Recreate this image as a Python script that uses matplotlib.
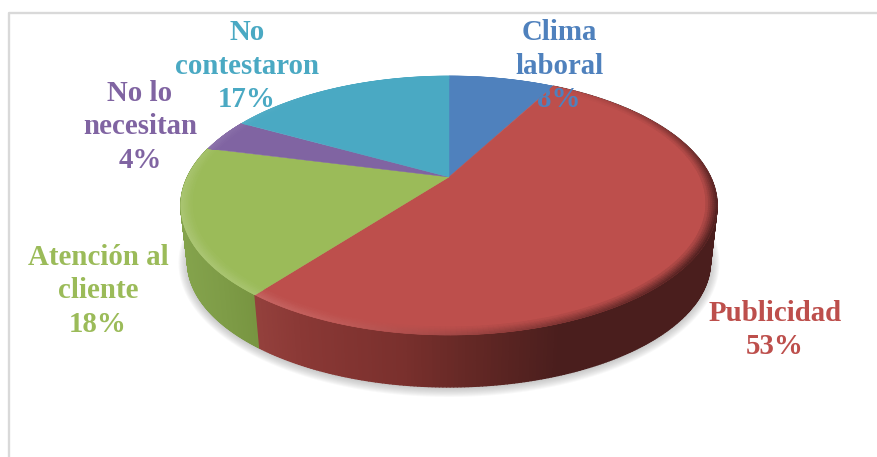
import numpy as np
import matplotlib
matplotlib.use("Agg")
import matplotlib.pyplot as plt
from matplotlib.collections import PolyCollection
from matplotlib.colors import to_rgb
from matplotlib.patches import Polygon

# Data
categories = ["Clima\nlaboral", "Publicidad", "Atención al\ncliente", "No lo\nnecesitan", "No\ncontestaron"]
percent_labels = ["8%", "53%", "18%", "4%", "17%"]
# slice sizes, they round to the labels above
shares = [7.9, 52.6, 18.4, 4.1, 17.0]
colors = ["#4f81bd", "#bd4f4c", "#9bbb59", "#8064a2", "#4aa9c3"]
label_pos = [(559, 66), (775, 330), (98, 291), (140, 127), (247, 66)]

# Pie geometry in pixels, top face is a circle seen in perspective
apex_x, apex_y = 449, 177
A, B, k = 261.5, 123.2, 0.22
ell_y = 205.5


def project(theta, r=1.0):
    u = r * np.sin(theta)
    v = r * np.cos(theta)
    d = 1 + k * v
    return apex_x + A * u / d, apex_y - B * v / d


def drop(x, y):
    # same point on the bottom face of the pie
    return apex_x + (x - apex_x) * 0.975, 262 + (y - ell_y) * 0.965


def mix(c, other, t):
    return tuple(np.array(c) * (1 - t) + np.array(other) * t)


fig = plt.figure(figsize=(8.77, 4.57), dpi=100)
ax = fig.add_axes([0, 0, 1, 1])
ax.set_xlim(0, 877)
ax.set_ylim(457, 0)
ax.axis("off")

# Chart frame, only top and left are visible
ax.plot([8.5, 8.5, 877], [457, 12.5, 12.5], color="#d9d9d9", lw=1.7, zorder=1)

# Soft shadow under the pie
th = np.linspace(0, 2 * np.pi, 361)
xs, ys = drop(*project(th))
for grow in np.linspace(9, 0, 10):
    sx = apex_x + (xs - apex_x) * (1 + grow / 257)
    sy = 263 + (ys - 262) * (1 + grow / 124)
    ax.add_patch(Polygon(np.c_[sx, sy], fc="#808080", ec="none", alpha=0.05, zorder=2))

edges = np.r_[0, np.cumsum(shares)] / sum(shares) * 2 * np.pi

# Side wall, gradient runs along x
side_x = {1: [258, 300, 400, 470, 560, 720], 2: [180, 220, 262]}
side_c = {1: ["#93403c", "#8a3835", "#7a302d", "#642825", "#4a1e1d", "#4a1e1d"],
          2: ["#84a34c", "#7e9c47", "#76933f"]}
polys, cols = [], []
for i in (2, 1):
    angles = np.linspace(edges[i], edges[i + 1], 300)
    x, y = project(angles)
    bx, by = drop(x, y)
    stops = np.array([to_rgb(c) for c in side_c[i]])
    for j in range(len(angles) - 1):
        polys.append([(x[j], y[j]), (x[j + 1], y[j + 1]), (bx[j + 1], by[j + 1]), (bx[j], by[j])])
        cx = (x[j] + x[j + 1]) / 2
        cols.append([np.interp(cx, side_x[i], stops[:, n]) for n in range(3)])
ax.add_collection(PolyCollection(polys, facecolors=cols, edgecolors=cols, linewidths=1.0, zorder=3))

# Top face
for i, c in enumerate(colors):
    angles = np.linspace(edges[i], edges[i + 1], 200)
    x, y = project(angles)
    pts = np.r_[[[apex_x, apex_y]], np.c_[x, y]]
    ax.add_patch(Polygon(pts, fc=c, ec=c, lw=0.3, zorder=4))

# Bevel around the rim, light from the lower left and dark on the right
polys, cols = [], []
rings = np.linspace(1.0, 0.96, 7)
for i, c in enumerate(colors):
    base = to_rgb(c)
    angles = np.linspace(edges[i], edges[i + 1], 200)
    for a0, a1 in zip(angles[:-1], angles[1:]):
        mid = (a0 + a1) / 2
        dark = max(0.0, np.cos(mid - np.radians(115))) ** 1.5
        light = max(0.0, np.cos(mid - np.radians(245))) ** 2
        for n in range(len(rings) - 1):
            fade = 1 - n / (len(rings) - 1)
            col = mix(base, (0.25, 0.1, 0.1), 0.85 * dark * fade)
            col = mix(col, (1, 1, 1), 0.16 * light * fade)
            x0, y0 = project(a0, rings[n])
            x1, y1 = project(a1, rings[n])
            x2, y2 = project(a1, rings[n + 1])
            x3, y3 = project(a0, rings[n + 1])
            polys.append([(x0, y0), (x1, y1), (x2, y2), (x3, y3)])
            cols.append(col)
ax.add_collection(PolyCollection(polys, facecolors=cols, edgecolors=cols, linewidths=0.5, zorder=5))

# Labels
for name, p, c, pos in zip(categories, percent_labels, colors, label_pos):
    ax.text(pos[0], pos[1], f"{name}\n{p}", color=c, ha="center", va="center",
            family="Liberation Serif", weight="bold", fontsize=20.8, linespacing=1.32, zorder=6)

fig.savefig("out.png", dpi=100)
